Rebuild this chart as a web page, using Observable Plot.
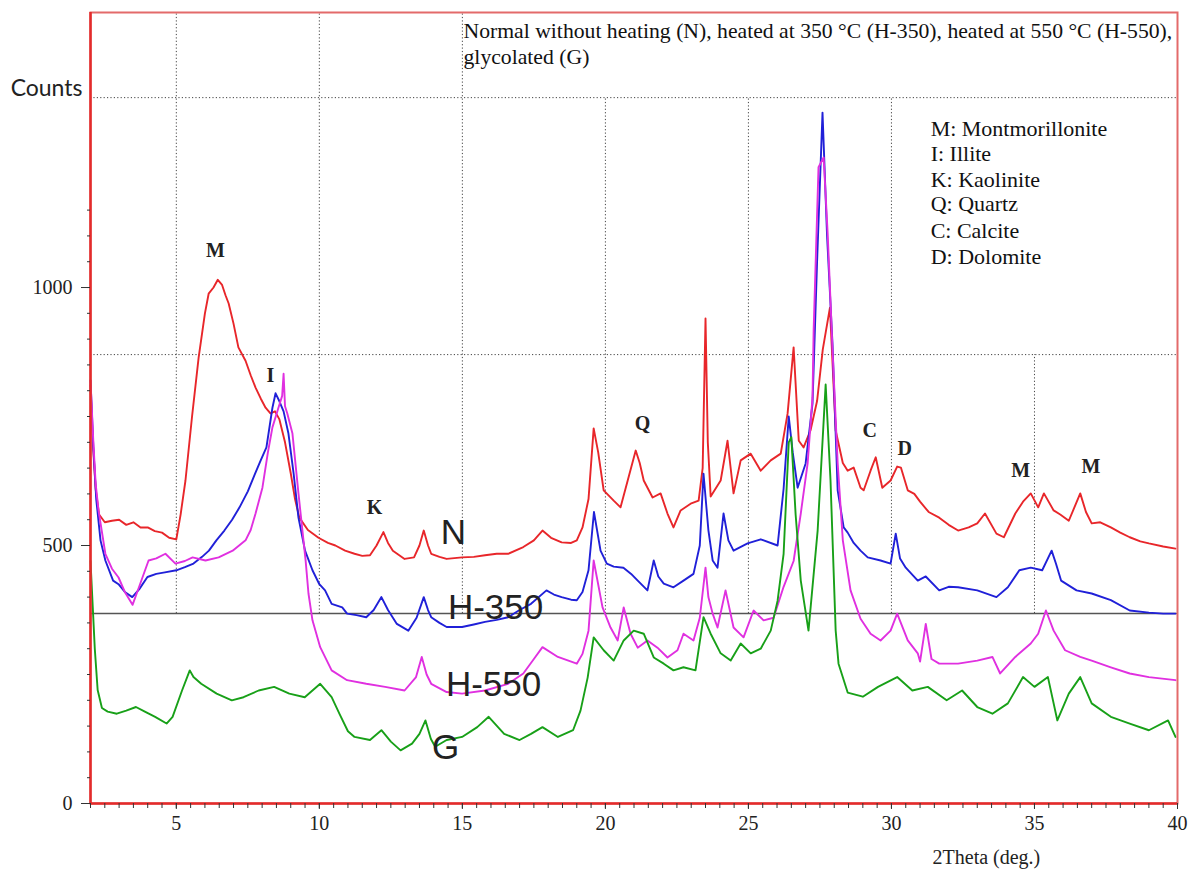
<!DOCTYPE html>
<html><head><meta charset="utf-8">
<script src="https://cdn.jsdelivr.net/npm/d3@7"></script>
<script src="https://cdn.jsdelivr.net/npm/@observablehq/plot@0.6"></script>
<style>body{margin:0;background:#fff}</style>
</head><body><div id="chart"></div>
<script>
// ---- Data (2Theta in degrees, intensity in counts) ----
const nX = [2.0,2.08,2.18,2.3,2.5,2.75,3.0,3.25,3.5,3.75,4.0,4.25,4.5,4.75,5.0,5.15,5.32,5.55,5.78,6.0,6.13,6.3,6.45,6.6,6.72,6.83,7.0,7.17,7.42,7.6,7.77,7.95,8.12,8.29,8.45,8.6,8.8,9.0,9.15,9.3,9.6,9.97,10.3,10.56,10.9,11.23,11.5,11.77,12.0,12.24,12.4,12.57,12.98,13.31,13.5,13.65,13.8,13.91,14.2,14.45,14.99,15.4,15.79,16.2,16.6,17.13,17.5,17.8,18.1,18.47,18.8,19.0,19.2,19.41,19.59,19.75,19.94,20.29,20.53,20.78,21.06,21.2,21.34,21.65,21.93,22.17,22.38,22.63,22.98,23.26,23.4,23.5,23.58,23.68,24.03,24.27,24.48,24.73,25.08,25.43,25.78,26.13,26.37,26.58,26.76,26.93,27.17,27.4,27.6,27.85,28.05,28.3,28.47,28.68,28.92,29.03,29.27,29.45,29.68,29.97,30.2,30.33,30.57,30.8,31.0,31.3,31.67,32.0,32.33,32.7,33.0,33.27,33.67,33.93,34.33,34.6,34.87,35.13,35.33,35.67,35.9,36.2,36.6,36.8,37.0,37.3,37.67,38.0,38.33,38.7,39.0,39.5,39.93];
const nY = [810,700,610,560,545,548,550,540,545,535,535,528,525,515,512,560,626,750,864,950,988,1000,1015,1005,985,969,930,884,858,830,806,785,767,756,760,745,700,640,590,554,530,515,505,500,490,484,480,481,500,526,505,490,474,477,500,529,500,484,478,474,477,478,481,484,484,497,510,529,515,506,505,510,535,590,727,680,607,587,574,626,684,660,626,593,601,562,535,568,581,587,650,940,700,595,626,703,601,665,678,645,665,678,756,884,703,690,723,780,880,961,723,660,645,651,612,607,645,671,612,626,653,651,607,600,585,565,554,540,529,535,543,562,523,516,562,585,601,574,601,568,560,548,601,565,543,545,535,525,516,508,504,498,494];

const h350X = [2.0,2.1,2.2,2.35,2.52,2.79,2.98,3.2,3.46,3.7,3.99,4.3,4.6,5.0,5.3,5.6,5.9,6.14,6.4,6.68,6.95,7.21,7.5,7.75,7.95,8.15,8.36,8.47,8.6,8.75,8.92,9.1,9.27,9.5,9.76,10.0,10.2,10.43,10.8,10.97,11.3,11.64,11.9,12.17,12.4,12.71,13.11,13.4,13.65,13.8,13.91,14.2,14.45,14.99,15.4,15.79,16.2,16.6,17.0,17.4,17.94,18.2,18.47,18.8,19.0,19.2,19.41,19.6,19.83,20.05,20.29,20.63,20.9,21.13,21.47,21.69,21.85,22.04,22.38,22.73,23.08,23.3,23.43,23.6,23.75,23.92,24.13,24.3,24.48,24.97,25.43,26.02,26.23,26.41,26.55,26.72,27.0,27.24,27.4,27.59,27.75,27.94,28.12,28.33,28.47,28.68,28.92,29.17,29.62,29.97,30.15,30.3,30.5,30.92,31.2,31.67,32.0,32.33,33.0,33.67,34.07,34.47,34.87,35.27,35.6,35.75,35.93,36.47,37.0,37.67,38.33,39.0,39.5,39.93];
const h350Y = [820,690,590,510,471,432,425,410,400,415,439,445,448,452,458,465,478,490,510,529,550,574,605,639,665,690,767,795,780,760,717,640,554,490,452,425,413,387,380,368,365,361,375,400,375,348,335,360,400,375,361,350,342,342,347,352,356,361,375,387,413,405,400,395,394,410,452,565,490,465,459,457,445,432,413,471,440,426,419,432,445,500,639,530,471,457,562,510,490,504,512,500,610,750,680,612,659,775,1050,1339,1100,890,607,535,525,505,490,477,471,465,523,475,457,432,440,413,420,419,413,400,419,452,457,452,490,465,432,413,407,394,374,370,368,368];

const h550X = [2.0,2.1,2.18,2.28,2.52,2.75,2.98,3.2,3.47,3.7,4.03,4.3,4.62,4.97,5.3,5.57,6.02,6.48,6.97,7.42,7.6,7.77,8.01,8.2,8.36,8.57,8.7,8.75,8.8,8.88,9.06,9.27,9.52,9.62,9.76,10.03,10.43,10.97,11.64,12.3,12.98,13.38,13.58,13.75,13.91,14.45,14.99,15.79,16.6,17.13,17.5,17.8,18.34,19.0,19.2,19.41,19.59,19.9,20.18,20.43,20.64,20.88,21.13,21.47,21.82,22.17,22.52,22.73,23.08,23.3,23.5,23.6,23.75,23.92,24.2,24.48,24.83,25.18,25.53,25.88,26.23,26.58,26.83,27.07,27.24,27.28,27.45,27.63,27.77,27.94,28.12,28.3,28.57,28.92,29.27,29.62,29.97,30.2,30.57,30.92,31.0,31.2,31.4,31.67,32.33,33.0,33.53,33.8,34.33,34.87,35.13,35.4,35.67,36.07,36.6,37.0,37.67,38.33,39.0,39.93];
const h550Y = [820,700,620,568,484,455,438,410,385,420,471,475,484,465,470,477,471,477,490,510,530,562,612,680,729,767,790,833,770,756,717,601,471,407,355,303,258,239,232,226,219,245,284,250,232,216,213,219,232,252,280,303,284,271,290,335,471,380,341,316,380,329,302,316,302,283,297,329,316,360,457,400,368,341,413,341,322,374,355,360,420,470,562,659,787,917,1233,1252,1105,880,660,510,413,358,329,316,335,368,316,291,275,348,280,271,271,277,284,252,284,310,329,374,335,297,284,277,264,252,245,239];

const gX = [2.0,2.08,2.15,2.25,2.4,2.6,2.92,3.25,3.59,3.9,4.26,4.66,4.87,5.2,5.47,5.6,5.87,6.41,6.94,7.35,7.88,8.42,8.95,9.49,10.03,10.43,10.7,11.0,11.23,11.77,12.17,12.5,12.84,13.24,13.5,13.71,13.9,14.05,14.45,14.99,15.52,15.92,16.46,17.0,17.4,17.8,18.34,18.87,19.13,19.38,19.59,19.94,20.29,20.64,20.99,21.34,21.69,22.04,22.38,22.73,23.15,23.43,23.68,24.03,24.38,24.73,25.08,25.43,25.78,26.02,26.23,26.41,26.5,26.65,26.83,27.1,27.42,27.7,27.87,28.05,28.15,28.47,29.0,29.53,30.2,30.73,31.27,31.93,32.47,33.0,33.53,34.07,34.6,35.0,35.47,35.8,36.2,36.6,37.0,37.67,38.33,39.0,39.67,39.93];
const gY = [470,380,300,220,185,178,174,180,187,178,168,155,168,219,258,245,232,213,200,206,219,226,213,206,232,206,174,140,129,123,142,120,103,116,135,161,125,110,123,129,148,168,135,123,135,148,129,142,180,244,322,297,277,316,335,329,283,271,258,264,258,361,329,291,277,310,291,300,335,393,484,700,710,560,432,335,529,812,626,335,271,215,207,226,245,219,226,200,219,187,174,194,245,226,245,161,213,245,194,168,155,142,161,129];

const seriesNames = ["N", "H-350", "H-550", "G"];
const seriesColors = ["#e8262a", "#2020d8", "#e030e0", "#18a018"];

// axis ticks
const xTicks = [5, 10, 15, 20, 25, 30, 35, 40];
const xMinorTicks = d3.range(2, 40.001, 0.5);
const yTicks = [0, 500, 1000];
const yMinorTicks = d3.range(0, 1151, 50);

// gridlines (counts / degrees)
const hGrid = [1368, 870];
const vGridX = [5, 10, 15, 20, 25, 30, 35];
const vGridTop = [1533, 1533, 1533, 1368, 1368, 1368, 870];
const baseLevel = 368;

// annotations
const peakLabels = ["M", "I", "K", "Q", "C", "D", "M", "M"];
const peakX = [6.37, 8.29, 11.93, 21.3, 29.24, 30.46, 34.52, 36.97];
const peakY = [1072, 829, 574, 736, 723, 688, 645, 653];
const seriesLabelX = [14.69, 16.16, 16.09, 14.41];
const seriesLabelY = [525, 380, 231, 108];
const legendLines = ["M: Montmorillonite", "I: Illite", "K: Kaolinite", "Q: Quartz", "C: Calcite", "D: Dolomite"];
const legendY = [1308, 1258, 1209, 1161, 1110, 1060];
const titleLines = ["Normal without heating (N), heated at 350 °C (H-350), heated at 550 °C (H-550),", "glycolated (G)"];
const titleY = [1498, 1446];

const seriesData = [[nX, nY], [h350X, h350Y], [h550X, h550Y], [gX, gY]].map(([xs, ys]) => xs.map((x, i) => ({x, y: ys[i]})));

const serif = "Liberation Serif";

const chart = Plot.plot({
  width: 1194, height: 873,
  marginLeft: 90, marginRight: 17, marginTop: 12, marginBottom: 70,
  x: {domain: [2, 40]},
  y: {domain: [0, 1533]},
  style: {fontFamily: serif, fontSize: "20px", color: "#222", background: "#fff"},
  marks: [
    Plot.ruleY(hGrid, {stroke: "#444", strokeDasharray: "1.2,2.2", strokeWidth: 1}),
    Plot.ruleX(vGridX, {x: d => d, y1: baseLevel, y2: (d, i) => vGridTop[i], stroke: "#444", strokeDasharray: "1.2,2.2", strokeWidth: 1}),
    Plot.ruleY([baseLevel], {stroke: "#555", strokeWidth: 1.5}),
    ...seriesData.map((d, i) => Plot.line(d, {x: "x", y: "y", stroke: seriesColors[i], strokeWidth: 1.9})),
    Plot.frame({stroke: "#e36a6a", strokeWidth: 2}),
    Plot.ruleX([2], {stroke: "#e32b2b", strokeWidth: 2.5}),
    Plot.ruleY([0], {stroke: "#e32b2b", strokeWidth: 2.5}),
    Plot.axisX(xMinorTicks, {tickSize: 5, tickFormat: () => "", label: null, stroke: "#333"}),
    Plot.axisX(xTicks, {tickSize: 6, tickPadding: 6, tickFormat: d => String(d), label: null, stroke: "#333", fontSize: 20}),
    Plot.axisY(yMinorTicks, {tickSize: 3, tickFormat: () => "", label: null, stroke: "#333"}),
    Plot.axisY(yTicks, {tickSize: 9, tickPadding: 9, tickFormat: d => String(d), label: null, stroke: "#333", fontSize: 20}),
    Plot.text(["Counts"], {x: 2, y: 1386, text: d => d, textAnchor: "end", dx: -8, fontFamily: "Lato", fontSize: 23, fill: "#222"}),
    Plot.text(["2Theta (deg.)"], {x: 33.32, y: -105, text: d => d, fontSize: 20, fill: "#222"}),
    Plot.text(titleLines, {x: 15.04, y: (d, i) => titleY[i], text: d => d, textAnchor: "start", fontSize: 21.7, fill: "#111"}),
    Plot.text(legendLines, {x: 31.37, y: (d, i) => legendY[i], text: d => d, textAnchor: "start", fontSize: 22, fill: "#111"}),
    Plot.text(peakLabels, {x: (d, i) => peakX[i], y: (d, i) => peakY[i], text: d => d, fontSize: 20, fontWeight: "bold", fill: "#222"}),
    Plot.text(seriesNames, {x: (d, i) => seriesLabelX[i], y: (d, i) => seriesLabelY[i], text: d => d, fontFamily: "Liberation Sans", fontSize: 35, fill: "#222"})
  ]
});
document.getElementById("chart").appendChild(chart);
</script>
</body></html>
